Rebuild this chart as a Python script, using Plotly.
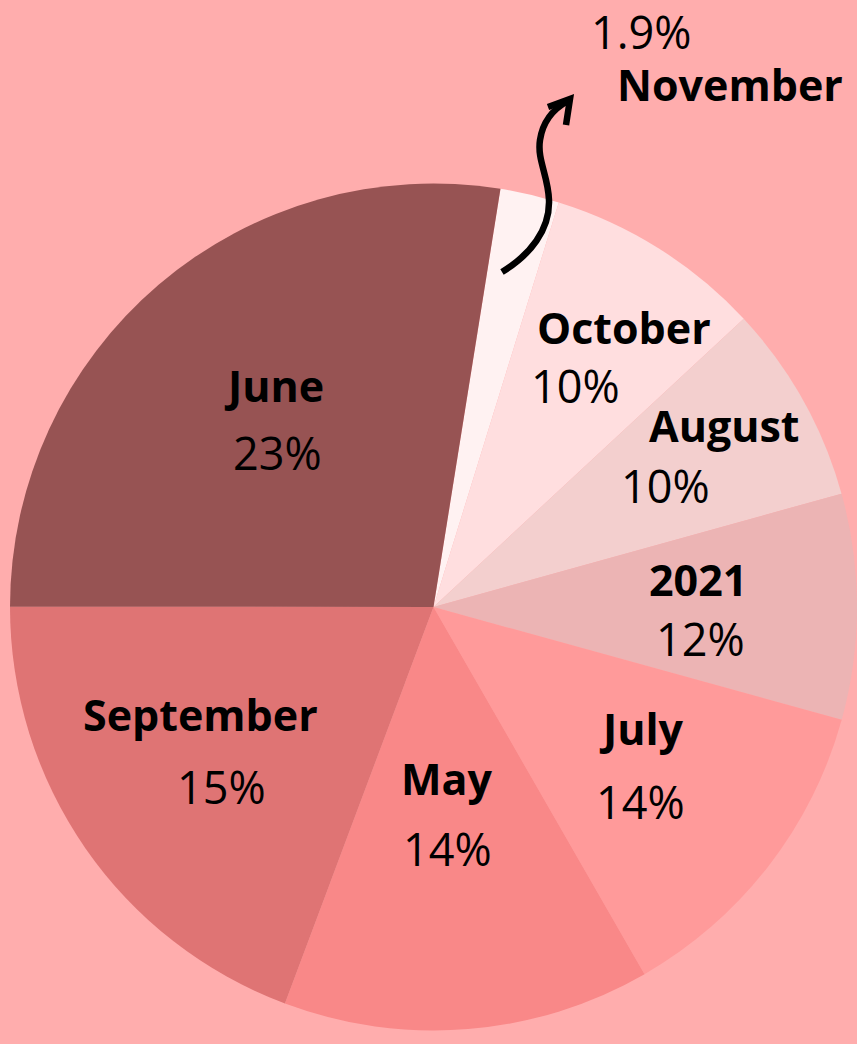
import plotly.graph_objects as go

W, H = 857, 1044

# slices, clockwise from the top
months = ["November", "October", "August", "2021", "July", "May", "September", "June"]
shares = [2.25, 8.3, 7.6, 8.6, 12.4, 14.0, 19.3, 27.5]
pct_labels = ["1.9%", "10%", "10%", "12%", "14%", "14%", "15%", "23%"]
colors = ["#FFF2F2", "#FFDEDF", "#F3CFCE", "#ECB4B4", "#FF9A9A", "#F98888", "#DF7474", "#975353"]

# label placement in pixels: (name x, name y, pct x, pct y)
label_pos = [
    (730, 84, 641, 31),
    (624, 327, 575, 385),
    (724, 425, 665, 485),
    (698, 579, 700, 638),
    (641, 728, 640, 801),
    (447, 778, 447, 848),
    (200, 714, 221, 786),
    (274, 385, 277, 452),
]


def px_x(x):
    return x / W


def px_y(y):
    return 1 - y / H


fig = go.Figure(go.Pie(
    labels=months,
    values=shares,
    sort=False,
    direction="clockwise",
    rotation=9.1,
    marker=dict(colors=colors, line=dict(width=0)),
    textinfo="none",
    hoverinfo="label",
    showlegend=False,
    domain=dict(x=[10 / W, 1.0], y=[px_y(1030.5), px_y(183.5)]),
))

for name, pct, (nx, ny, qx, qy) in zip(months, pct_labels, label_pos):
    fig.add_annotation(x=px_x(nx), y=px_y(ny), xref="paper", yref="paper",
                       text="<b>%s</b>" % name, showarrow=False,
                       xanchor="center", yanchor="middle",
                       font=dict(family="Open Sans", size=43, color="#000000"))
    fig.add_annotation(x=px_x(qx), y=px_y(qy), xref="paper", yref="paper",
                       text=pct, showarrow=False,
                       xanchor="center", yanchor="middle",
                       font=dict(family="Open Sans", size=45, color="#000000"))

# hand-drawn style arrow pointing to November
pts = [(502, 272), (530, 255), (550, 230), (549, 200), (548, 175), (537, 160), (540, 140),
       (543, 120), (555, 108), (568, 101)]
p = [(px_x(a), px_y(b)) for a, b in pts]
path = "M %f %f C %f %f, %f %f, %f %f C %f %f, %f %f, %f %f C %f %f, %f %f, %f %f" % tuple(
    v for pt in p for v in pt)
head = [(548, 107), (570, 99), (566, 125)]
hp = [(px_x(a), px_y(b)) for a, b in head]
path2 = "M %f %f L %f %f L %f %f" % tuple(v for pt in hp for v in pt)
for d in (path, path2):
    fig.add_shape(type="path", path=d, xref="paper", yref="paper",
                  line=dict(color="#000000", width=6.5))

fig.update_layout(
    width=W, height=H,
    margin=dict(l=0, r=0, t=0, b=0),
    paper_bgcolor="#FFADAD",
    plot_bgcolor="#FFADAD",
)

# drop the default page margin so the figure sits flush in the window
fig.write_html("out.html",
               config={"displayModeBar": False},
               post_script="document.body.style.margin='0';"
                           "document.body.style.background='#FFADAD';")
